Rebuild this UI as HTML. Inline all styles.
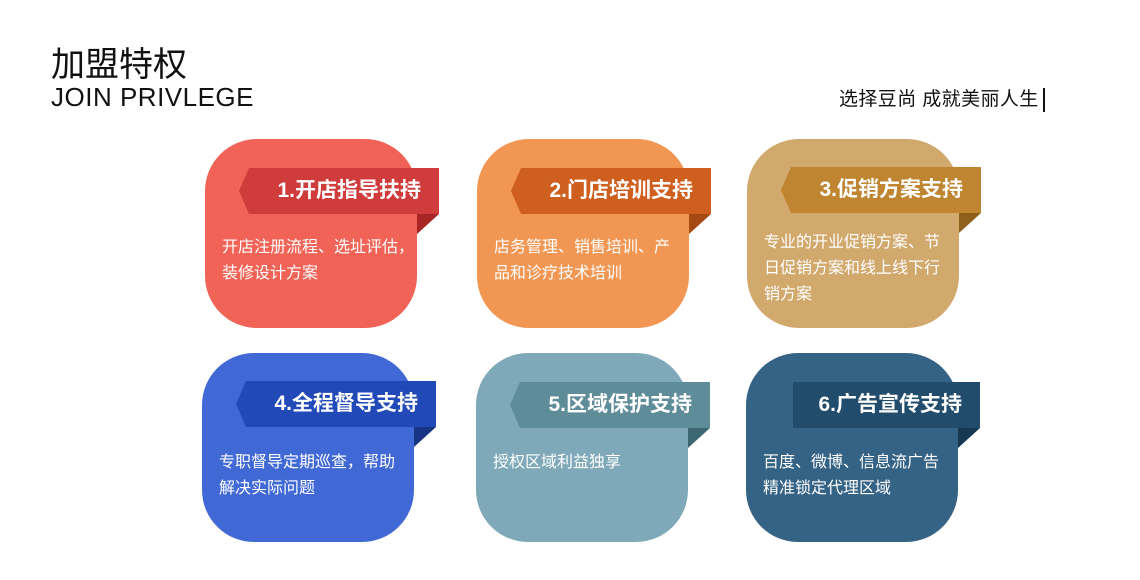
<!DOCTYPE html>
<html><head><meta charset="utf-8"><style>
body{margin:0;width:1140px;height:580px;background:#fff;position:relative;overflow:hidden;font-family:"Liberation Sans","Noto Sans CJK SC",sans-serif}
.t1{position:absolute;left:51px;top:37px;font-size:34px;color:#111}
.t2{position:absolute;left:51px;top:82px;font-size:26px;color:#111;letter-spacing:0.5px}
.sl{position:absolute;left:839px;top:88px;font-size:19px;color:#111;border-right:2px solid #111;padding-right:4px;line-height:24px;letter-spacing:0.4px}
.card{position:absolute;width:212px;height:189px;border-radius:52px}
.rib{position:absolute;height:46px;color:#fff;font-size:21px;font-weight:bold;line-height:46px;text-align:right;box-sizing:border-box;padding-right:18px}
.fold{position:absolute;width:0;height:0;border-top:20px solid;border-right:22px solid transparent}
.d{position:absolute;color:#fff;font-size:16px;line-height:26px;width:185px}
</style></head><body>
<div class="t1">加盟特权</div>
<div class="t2">JOIN PRIVLEGE</div>
<div class="sl">选择豆尚 成就美丽人生</div>

<div class="card" style="left:205px;top:139px;background:#f06356"></div>
<div class="rib" style="left:239px;top:168px;width:200px;background:#d03c3c;clip-path:polygon(10px 0,100% 0,100% 100%,10px 100%,0 50%)">1.开店指导扶持</div>
<div class="fold" style="left:417px;top:214px;border-top-color:#a82525"></div>
<div class="d" style="left:222px;top:235px;width:196px">开店注册流程、选址评估，装修设计方案</div>

<div class="card" style="left:477px;top:139px;background:#f29753"></div>
<div class="rib" style="left:511px;top:168px;width:200px;background:#cf5f1e;clip-path:polygon(10px 0,100% 0,100% 100%,10px 100%,0 50%)">2.门店培训支持</div>
<div class="fold" style="left:689px;top:214px;border-top-color:#a54812"></div>
<div class="d" style="left:494px;top:235px">店务管理、销售培训、产品和诊疗技术培训</div>

<div class="card" style="left:747px;top:139px;background:#d2a96d"></div>
<div class="rib" style="left:781px;top:167px;width:200px;background:#bf8530;clip-path:polygon(10px 0,100% 0,100% 100%,10px 100%,0 50%)">3.促销方案支持</div>
<div class="fold" style="left:959px;top:213px;border-top-color:#8f601c"></div>
<div class="d" style="left:764px;top:230px">专业的开业促销方案、节日促销方案和线上线下行销方案</div>

<div class="card" style="left:202px;top:353px;background:#4169d6"></div>
<div class="rib" style="left:236px;top:381px;width:200px;background:#2149b8;clip-path:polygon(10px 0,100% 0,100% 100%,10px 100%,0 50%)">4.全程督导支持</div>
<div class="fold" style="left:414px;top:427px;border-top-color:#173485"></div>
<div class="d" style="left:219px;top:450px">专职督导定期巡查，帮助解决实际问题</div>

<div class="card" style="left:476px;top:353px;background:#7fa9b8"></div>
<div class="rib" style="left:510px;top:382px;width:200px;background:#5e8c99;clip-path:polygon(10px 0,100% 0,100% 100%,10px 100%,0 50%)">5.区域保护支持</div>
<div class="fold" style="left:688px;top:428px;border-top-color:#3d6873"></div>
<div class="d" style="left:493px;top:450px">授权区域利益独享</div>

<div class="card" style="left:746px;top:353px;background:#356386"></div>
<div class="rib" style="left:793px;top:382px;width:187px;background:#224c6b">6.广告宣传支持</div>
<div class="fold" style="left:958px;top:428px;border-top-color:#163850"></div>
<div class="d" style="left:763px;top:450px">百度、微博、信息流广告精准锁定代理区域</div>
</body></html>
